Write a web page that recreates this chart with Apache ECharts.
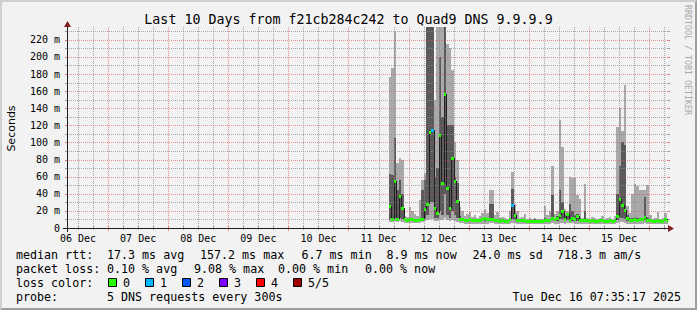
<!DOCTYPE html>
<html><head><meta charset="utf-8">
<script src="https://cdn.jsdelivr.net/npm/echarts@6/dist/echarts.min.js"></script>
<style>html,body{margin:0;padding:0;background:#f2f2f2}#c{width:697px;height:310px}</style>
</head><body><div id="c"></div>
<script>
// ---- time frame: hours after 06 Dec 00:00 ----
const windowStartHour = 7 + 35 / 60 + 17 / 3600;   // Tue Dec 06 07:35:17
const windowHours = 240;                            // last 10 days
const firstBinHour = 136;                           // first measured hour bin: 11 Dec 16:00
const dayLabels = ['06 Dec', '07 Dec', '08 Dec', '09 Dec', '10 Dec', '11 Dec', '12 Dec', '13 Dec', '14 Dec', '15 Dec'];
const dayLabelHours = [12, 36, 60, 84, 108, 132, 156, 180, 204, 228];   // labels sit at noon
const yTickValues = [0, 20, 40, 60, 80, 100, 120, 140, 160, 180, 200, 220];

// ---- hourly smoke (ms) : min, 2nd, 4th, max ping and median, plus lost pings ----
const pingMax = [177,187,229,76,82,80,14,13,24,20,
  16,14,33,56,64,240,240,240,150,240,
  240,240,240,215,210,185,100,80,25,20,
  14,16,19,13,15,12,14,17,22,18,
  44,44,15,19,12,13,12,11,20,66,
  28,20,12,13,16,11,12,11,12,10,
  11,11,26,15,20,73,16,20,126,95,
  22,20,60,58,58,38,34,12,51,12,
  11,13,12,11,12,14,11,12,13,11,
  14,118,140,113,167,26,18,40,51,49,
  44,44,44,50,15,11,12,19,11,12,
  18,10];
const pingHi = [63,62,105,45,56,40,11,10,11,12,
  10,10,12,45,56,240,240,240,60,70,
  200,130,240,120,120,120,60,53,14,11,
  10,10,11,10,10,10,10,11,12,11,
  28,28,10,11,10,10,9,9,12,46,
  18,11,10,10,11,9,9,9,10,9,
  9,9,12,10,10,38,11,14,44,30,
  15,17,28,20,15,16,12,10,20,10,
  9,10,9,9,10,10,9,9,10,9,
  10,40,72,100,97,15,11,12,13,12,
  12,12,36,12,10,9,9,11,9,9,
  11,9];
const pingLo = [10,9,12,9,12,10,8,8,8,8,
  8,8,8,9,12,15,30,30,12,12,
  20,15,40,15,12,20,15,12,9,8,
  7.5,7.5,8,7.5,7.5,7.5,7.5,8,8,8,
  9,9,7.5,7.5,7.5,7.5,7.5,7.5,8,10,
  9,7.5,7.5,7.5,7.5,7.5,7.5,7.5,7.5,7.5,
  7.5,7.5,8,8,8,9,8,8,10,10,
  8,9,8,8,8,8,7.5,7.5,8,7.5,
  7.5,7.5,7.5,7.5,7.5,7.5,7.5,7.5,7.5,7.5,
  7.5,9,12,12,10,8,7.5,7.5,8,7.5,
  8,8,9,7.5,7.5,7.5,7.5,7.5,7.5,7.5,
  8,7.5];
const pingMin = [7,7,8,7,8,7,6,6,6,6,
  6,6,6,7,8,9,10,10,8,8,
  9,9,12,9,8,9,8,7,6,6,
  5,5,5,5,5,5,5,5,5,5,
  6,6,5,5,5,5,5,5,5,6,
  6,5,5,5,5,5,5,5,5,5,
  5,5,5,5,5,6,5,5,6,6,
  5,6,6,6,5,5,5,5,5,5,
  5,5,5,5,5,5,5,5,5,5,
  5,6,6.5,6.5,6,5,5,5,5,5,
  5,5,6,5,5,5,5,5,5,5,
  5,5];
const pingMedian = [26,10,55,10,37,23,10,9,10,10,
  9,9,10,11,22,28,112,115,23,17,
  109,53,157,47,23,82,55,32,11,10,
  9,9,10,9,9,9,9,10,12,10,
  10,11,9,9,8,9,8,8,10,27,
  15,9,9,9,9,8,8,8,8,8,
  8,8,9,9,9,12,10,12,15,20,
  11,16,9,12,10,14,9,9,9,9,
  8,9,8,8,9,9,8,8,9,8,
  9,14,34,27,21,12,9,9,10,9,
  10,10,13,9,9,8,8,9,8,8,
  10,8];
const lostPings = [0,0,0,0,0,0,0,0,0,0,
  0,0,0,0,0,0,0,1,0,0,
  0,0,0,0,0,0,0,0,0,0,
  0,0,0,0,0,0,0,0,0,0,
  0,0,0,0,0,0,0,0,0,1,
  0,0,0,0,0,0,0,0,0,0,
  0,0,0,0,0,0,0,0,0,0,
  0,0,0,0,0,0,0,0,0,0,
  0,0,0,0,0,0,0,0,0,0,
  0,0,0,0,0,0,0,0,0,0,
  0,0,0,0,0,0,0,0,0,0,
  0,0];

// ---- legend texts ----
const lossLabels = ['0', '1', '2', '3', '4', '5/5'];
const medianStats = ['median rtt:', '17.3 ms avg', '157.2 ms max', '6.7 ms min', '8.9 ms now', '24.0 ms sd', '718.3 m am/s'];
const lossStats = ['packet loss:', '0.10 % avg', '9.08 % max', '0.00 % min', '0.00 % now'];
const probeText = ['probe:', '5 DNS requests every 300s'];
const stampText = 'Tue Dec 16 07:35:17 2025';
const titleText = 'Last 10 Days from f21cb284c242 to Quad9 DNS 9.9.9.9';

// ---- styles ----
const C = {
  back: '#f2f2f2', shadeA: '#cfcfcf', shadeB: '#9e9e9e',
  grid: 'rgba(143,143,143,0.75)', mgrid: 'rgba(222,79,79,0.6)',
  arrow: '#801f1f', axis: '#1f1f1f', font: '#000000',
  light: '#a9a9a9', dark: '#5a5a5a', medLine: '#202020'
};
const lossColors = ['#26ff00', '#00b8ff', '#0059ff', '#7e00ff', '#ff0000', '#a10000'];
const MONO = '"DejaVu Sans Mono"';
const yMaxVal = 235;

const smokeData = pingMax.map((v, i) => [firstBinHour + i, pingMin[i], pingLo[i], pingHi[i], v]);
const medData = pingMedian.map((v, i) => [firstBinHour + i, v, i > 0 ? pingMedian[i - 1] : null, lostPings[i]]);
const vGridHours = [];
for (let h = Math.ceil(windowStartHour / 6) * 6; h < windowStartHour + windowHours; h += 6) vGridHours.push([h, 0]);
const hGridValues = [];
for (let v = 10; v <= 230; v += 10) hGridValues.push([windowStartHour, v]);

const chart = echarts.init(document.getElementById('c'), null, {renderer: 'svg', width: 697, height: 310});

function px(v) { return Math.round(v); }

const graphics = [];
// 3D frame
graphics.push({type: 'polygon', shape: {points: [[0,0],[697,0],[695,2],[2,2],[2,308],[0,310]]}, style: {fill: C.shadeA}, silent: true});
graphics.push({type: 'polygon', shape: {points: [[697,0],[697,310],[0,310],[2,308],[695,308],[695,2]]}, style: {fill: C.shadeB}, silent: true});
// axis extensions & arrows
graphics.push({type: 'line', shape: {x1: 63, y1: 228.5, x2: 67, y2: 228.5}, style: {stroke: C.axis, lineWidth: 1}, z: 50});
graphics.push({type: 'line', shape: {x1: 668, y1: 228.5, x2: 670, y2: 228.5}, style: {stroke: C.axis, lineWidth: 1}, z: 50});
graphics.push({type: 'line', shape: {x1: 67.5, y1: 228, x2: 67.5, y2: 232}, style: {stroke: C.axis, lineWidth: 1}, z: 50});
graphics.push({type: 'line', shape: {x1: 67.5, y1: 23, x2: 67.5, y2: 27}, style: {stroke: C.axis, lineWidth: 1}, z: 50});
graphics.push({type: 'polygon', shape: {points: [[64,27],[71,27],[67.5,21]]}, style: {fill: C.arrow}, z: 60});
graphics.push({type: 'polygon', shape: {points: [[668,225],[668,232],[674,228.5]]}, style: {fill: C.arrow}, z: 60});

function txt(text, x, y, opts) {
  opts = opts || {};
  return {
    type: 'text', x: x, y: y, rotation: opts.rotation || 0, silent: true, z: 50,
    style: {
      text: text, fill: opts.fill || C.font,
      font: opts.font || ('11.66px ' + MONO),
      align: opts.align || 'left', textAlign: opts.align || 'left',
      verticalAlign: 'middle', textVerticalAlign: 'middle'
    }
  };
}
graphics.push(txt('Seconds', 11, 128.5, {rotation: Math.PI / 2, align: 'center', font: '11px "DejaVu Sans"'}));
graphics.push(txt('RRDTOOL / TOBI OETIKER', 687.5, 60, {rotation: -Math.PI / 2, align: 'center', font: '8.3px ' + MONO, fill: '#a8a8a8'}));

const line1X = [16, 107, 200, 301.5, 386.5, 472.5, 557];
medianStats.forEach((t, i) => graphics.push(txt(t, line1X[i], 254.5)));
const line2X = [16, 107, 194, 278, 365];
lossStats.forEach((t, i) => graphics.push(txt(t, line2X[i], 268.5)));
graphics.push(txt('loss color:', 16, 282.5));
const boxX = [108, 145, 182, 219, 256, 293];
lossLabels.forEach((t, i) => {
  graphics.push({type: 'rect', shape: {x: boxX[i] + 0.5, y: 278.5, width: 8, height: 8}, style: {fill: lossColors[i], stroke: '#000', lineWidth: 1}, z: 50, silent: true});
  graphics.push(txt(t, boxX[i] + 15, 282.5));
});
const line4X = [16, 107];
probeText.forEach((t, i) => graphics.push(txt(t, line4X[i], 296.5)));
graphics.push(txt(stampText, 681, 296.5, {align: 'right'}));

const option = {
  animation: false,
  backgroundColor: C.back,
  title: {
    text: titleText, left: 'center', top: 12.5, padding: 0,
    textStyle: {fontFamily: 'DejaVu Sans Mono', fontSize: 13.3, fontWeight: 'normal', color: C.font}
  },
  grid: {left: 67, top: 27, right: 29, bottom: 82, containLabel: false, outerBoundsMode: 'none'},
  xAxis: {
    type: 'value', min: windowStartHour, max: windowStartHour + windowHours, z: 5,
    axisLine: {show: true, lineStyle: {color: C.axis, width: 1}},
    axisTick: {show: false}, axisLabel: {show: false}, splitLine: {show: false}
  },
  yAxis: {
    type: 'value', min: 0, max: yMaxVal, interval: 10, z: 5,
    axisLine: {show: true, lineStyle: {color: C.axis, width: 1}},
    axisTick: {show: false}, splitLine: {show: false},
    axisLabel: {
      show: true, margin: 7, color: C.font, fontFamily: 'DejaVu Sans Mono', fontSize: 10,
      showMinLabel: true, showMaxLabel: false,
      formatter: v => yTickValues.indexOf(v) >= 0 ? (v === 0 ? '0' : v + ' m') : ''
    }
  },
  graphic: {elements: graphics},
  series: [
    { // smoke
      type: 'custom', z: 1, clip: true, silent: true, data: smokeData,
      renderItem: (params, api) => {
        const h = api.value(0);
        const xl = px(api.coord([h, 0])[0]);
        const xr = px(api.coord([h + 1, 0])[0]);
        const yMin = px(api.coord([h, api.value(1)])[1]);
        const yLo = px(api.coord([h, api.value(2)])[1]);
        const yHi = px(api.coord([h, api.value(3)])[1]);
        const yMax = px(api.coord([h, api.value(4)])[1]);
        return {type: 'group', children: [
          {type: 'rect', shape: {x: xl, y: yMax, width: xr - xl, height: yMin - yMax}, style: {fill: C.light}},
          {type: 'rect', shape: {x: xl, y: yHi, width: xr - xl, height: yLo - yHi}, style: {fill: C.dark}}
        ]};
      }
    },
    { // horizontal grid
      type: 'custom', z: 2, clip: false, silent: true, data: hGridValues,
      renderItem: (params, api) => {
        const v = api.value(1);
        const p0 = api.coord([windowStartHour, v]);
        const p1 = api.coord([windowStartHour + windowHours, v]);
        const y = px(p0[1]) + 0.5;
        const major = v % 20 === 0;
        const col = major ? C.mgrid : C.grid;
        return {type: 'group', children: [
          {type: 'line', shape: {x1: px(p0[0]) - 2, y1: y, x2: px(p1[0]) + 2, y2: y}, style: {stroke: col, lineWidth: 1, lineDash: [1, 1]}},
          {type: 'line', shape: {x1: px(p0[0]) - 2, y1: y, x2: px(p0[0]), y2: y}, style: {stroke: col, lineWidth: 1}},
          {type: 'line', shape: {x1: px(p1[0]), y1: y, x2: px(p1[0]) + 2, y2: y}, style: {stroke: col, lineWidth: 1}}
        ]};
      }
    },
    { // vertical grid
      type: 'custom', z: 2, clip: false, silent: true, data: vGridHours,
      renderItem: (params, api) => {
        const h = api.value(0);
        const b = api.coord([h, 0]);
        const t = api.coord([h, yMaxVal]);
        const x = px(b[0]) + 0.5;
        const major = h % 24 === 0;
        const col = major ? C.mgrid : C.grid;
        return {type: 'group', children: [
          {type: 'line', shape: {x1: x, y1: px(t[1]), x2: x, y2: px(b[1])}, style: {stroke: col, lineWidth: 1, lineDash: [1, 1]}},
          {type: 'line', shape: {x1: x, y1: px(b[1]) - 2, x2: x, y2: px(b[1]) + (major ? 3 : 2)}, style: {stroke: col, lineWidth: 1}}
        ]};
      }
    },
    { // median connecting line
      type: 'custom', z: 3, clip: true, silent: true, data: medData,
      renderItem: (params, api) => {
        const h = api.value(0);
        const prev = api.value(2);
        if (prev == null || isNaN(prev)) return null;
        const x = px(api.coord([h, 0])[0]) + 0.5;
        const y0 = px(api.coord([h, prev])[1]);
        const y1 = px(api.coord([h, api.value(1)])[1]);
        return {type: 'line', shape: {x1: x, y1: y0, x2: x, y2: y1}, style: {stroke: C.medLine, lineWidth: 1}};
      }
    },
    { // median coloured by loss
      type: 'custom', z: 4, clip: true, silent: true, data: medData,
      renderItem: (params, api) => {
        const h = api.value(0);
        const xl = px(api.coord([h, 0])[0]);
        const xr = px(api.coord([h + 1, 0])[0]);
        const y = px(api.coord([h, api.value(1)])[1]);
        return {type: 'rect', shape: {x: xl, y: y - 1, width: xr - xl, height: 3}, style: {fill: lossColors[api.value(3)]}};
      }
    },
    { // day labels at noon
      type: 'custom', z: 5, clip: false, silent: true, data: dayLabelHours.map(h => [h, 0]),
      renderItem: (params, api) => {
        const p = api.coord([api.value(0), 0]);
        return {type: 'text', x: p[0], y: p[1] + 10.5, style: {
          text: dayLabels[params.dataIndex], fill: C.font, font: '10px ' + MONO,
          align: 'center', textAlign: 'center', verticalAlign: 'middle', textVerticalAlign: 'middle'}};
      }
    }
  ]
};
chart.setOption(option);
</script>
</body></html>
